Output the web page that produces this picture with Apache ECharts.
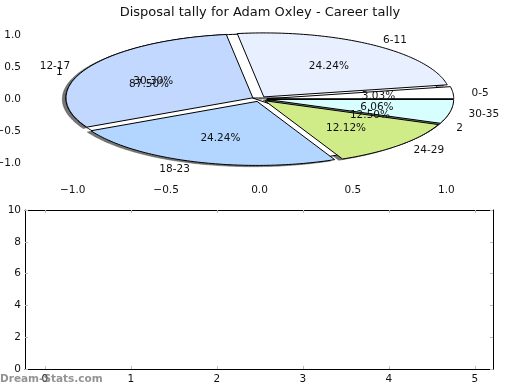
<!DOCTYPE html>
<html><head><meta charset="utf-8">
<style>html,body{margin:0;padding:0;background:#fff}#c{width:520px;height:390px}</style>
<script src="https://cdn.jsdelivr.net/npm/echarts@6/dist/echarts.min.js"></script>
</head><body><div id="c"></div>
<script>
const titleText = 'Disposal tally for Adam Oxley - Career tally';
const watermark = 'Dream-Stats.com';
const tallyLabels = ['0-5','6-11','12-17','18-23','24-29','30-35'];
const tallyValues = [1,8,10,8,4,2];
const tallyColors = ['#ffffff','#e8f0ff','#c2d8ff','#b2d6ff','#d0ec88','#d8ffff'];
const splitLabels = ['1','2'];
const splitValues = [7,1];
const splitColors = ['#ffffff','#808080'];
const pieTicks = [-1,-0.5,0,0.5,1];
const lowerXTicks = [0,1,2,3,4,5];
const lowerYTicks = [0,2,4,6,8,10];

const FONT = 'DejaVu Sans';
const EXPLODE = 0.04, SHADOW = [-0.02,-0.02];
const tickStyle = {lineStyle:{color:'#bbbbbb',width:1}, length:3, inside:true};

function slices(vals){
  const tot = vals.reduce((a,b)=>a+b,0); let acc = 0;
  return vals.map(v=>{const s=acc/tot*2*Math.PI; acc+=v; const e=acc/tot*2*Math.PI; return {s,e,m:(s+e)/2,p:v/tot*100};});
}
const A = slices(tallyValues), B = slices(splitValues);

function wedgePts(api,sl,off){
  const ox = EXPLODE*Math.cos(sl.m)+off[0], oy = EXPLODE*Math.sin(sl.m)+off[1];
  const pts=[api.coord([ox,oy])];
  const n = Math.max(4,Math.ceil((sl.e-sl.s)/0.02));
  for(let i=0;i<=n;i++){const t=sl.s+(sl.e-sl.s)*i/n; pts.push(api.coord([ox+Math.cos(t),oy+Math.sin(t)]));}
  return pts;
}
function txt(api,x,y,text,align){
  const p=api.coord([x,y]);
  return {type:'text',x:p[0],y:p[1]+1,style:{text,font:'10.5px "'+FONT+'"',fill:'#111',align,verticalAlign:'middle'}};
}
function labelsFor(api,sl,label){
  const c=Math.cos(sl.m), s=Math.sin(sl.m), ox=EXPLODE*c, oy=EXPLODE*s;
  return {type:'group',children:[
    txt(api,ox+1.1*c,oy+1.1*s,label,c>0?'left':'right'),
    txt(api,ox+0.6*c,oy+0.6*s,sl.p.toFixed(2)+'%','center')
  ]};
}
const base = {type:'custom',xAxisIndex:0,yAxisIndex:0,clip:false,silent:true};
const gridBase = {outerBoundsMode:'none',containLabel:false};
const shadowStyle = {fill:'rgba(60,60,60,0.7)',stroke:'rgba(60,60,60,0.4)',lineWidth:1};

const option = {
  animation:false, backgroundColor:'#fff',
  textStyle:{fontFamily:FONT},
  title:{text:titleText,left:'center',top:1,textStyle:{fontFamily:FONT,fontSize:13,fontWeight:'normal',color:'#111'}},
  grid:[
    {...gridBase,left:26,top:19,width:467,height:160},
    {...gridBase,left:25,top:210,width:468,height:159}
  ],
  xAxis:[
    {gridIndex:0,type:'value',min:-1.25,max:1.25,splitLine:{show:false},axisLine:{show:false},
     axisTick:{...tickStyle,customValues:pieTicks},
     axisLabel:{customValues:pieTicks,color:'#111',fontSize:10.5,margin:6,formatter:v=>(v<0?'\u2212':'')+Math.abs(v).toFixed(1)}},
    {gridIndex:0,type:'value',position:'top',min:-1.25,max:1.25,splitLine:{show:false},axisLine:{show:false},
     axisTick:{...tickStyle,customValues:pieTicks},axisLabel:{show:false}},
    {gridIndex:1,type:'value',min:-0.23,max:5.21,splitLine:{show:false},axisLine:{show:true,onZero:false,lineStyle:{color:'#000',width:1}},
     axisTick:{...tickStyle,customValues:lowerXTicks},
     axisLabel:{customValues:lowerXTicks,color:'#111',fontSize:10.5,margin:5}},
    {gridIndex:1,type:'value',position:'top',min:-0.23,max:5.21,splitLine:{show:false},axisLine:{show:true,onZero:false,lineStyle:{color:'#000',width:1}},
     axisTick:{...tickStyle,customValues:lowerXTicks},axisLabel:{show:false}}
  ],
  yAxis:[
    {gridIndex:0,type:'value',min:-1.25,max:1.25,splitLine:{show:false},axisLine:{show:false},
     axisTick:{...tickStyle,customValues:pieTicks},
     axisLabel:{customValues:pieTicks,color:'#111',fontSize:10.5,margin:5,padding:[2,0,0,0],formatter:v=>(v<0?'\u2212':'')+Math.abs(v).toFixed(1)}},
    {gridIndex:0,type:'value',position:'right',min:-1.25,max:1.25,splitLine:{show:false},axisLine:{show:false},
     axisTick:{...tickStyle,customValues:pieTicks},axisLabel:{show:false}},
    {gridIndex:1,type:'value',min:0,max:10,interval:2,splitLine:{show:false},axisLine:{show:true,onZero:false,lineStyle:{color:'#000',width:1}},
     axisTick:{...tickStyle,customValues:lowerYTicks},axisLabel:{customValues:lowerYTicks,color:'#111',fontSize:10.5,margin:4,padding:[2,0,0,0]}},
    {gridIndex:1,type:'value',position:'right',min:0,max:10,interval:2,splitLine:{show:false},axisLine:{show:true,onZero:false,lineStyle:{color:'#000',width:1}},
     axisTick:{...tickStyle,customValues:lowerYTicks},axisLabel:{show:false}}
  ],
  series:[
    {...base,z:2,data:tallyValues,renderItem:(p,api)=>({type:'polygon',shape:{points:wedgePts(api,A[p.dataIndex],SHADOW)},style:shadowStyle})},
    {...base,z:3,data:splitValues,renderItem:(p,api)=>({type:'polygon',shape:{points:wedgePts(api,B[p.dataIndex],[0,0])},style:{fill:splitColors[p.dataIndex],stroke:'#000',lineWidth:1,lineJoin:'round'}})},
    {...base,z:4,data:tallyValues,renderItem:(p,api)=>({type:'polygon',shape:{points:wedgePts(api,A[p.dataIndex],[0,0])},style:{fill:tallyColors[p.dataIndex],stroke:'#000',lineWidth:1,lineJoin:'round'}})},
    {...base,z:5,data:tallyValues,renderItem:(p,api)=>labelsFor(api,A[p.dataIndex],tallyLabels[p.dataIndex])},
    {...base,z:6,data:splitValues,renderItem:(p,api)=>labelsFor(api,B[p.dataIndex],splitLabels[p.dataIndex])},
    {type:'line',xAxisIndex:2,yAxisIndex:2,data:[],silent:true}
  ],
  graphic:[{type:'text',left:0,top:374,z:10,style:{text:watermark,font:'bold 10.5px "'+FONT+'"',fill:'rgba(120,120,120,0.8)'}}]
};
echarts.init(document.getElementById('c'),null,{renderer:'canvas'}).setOption(option);
</script></body></html>
